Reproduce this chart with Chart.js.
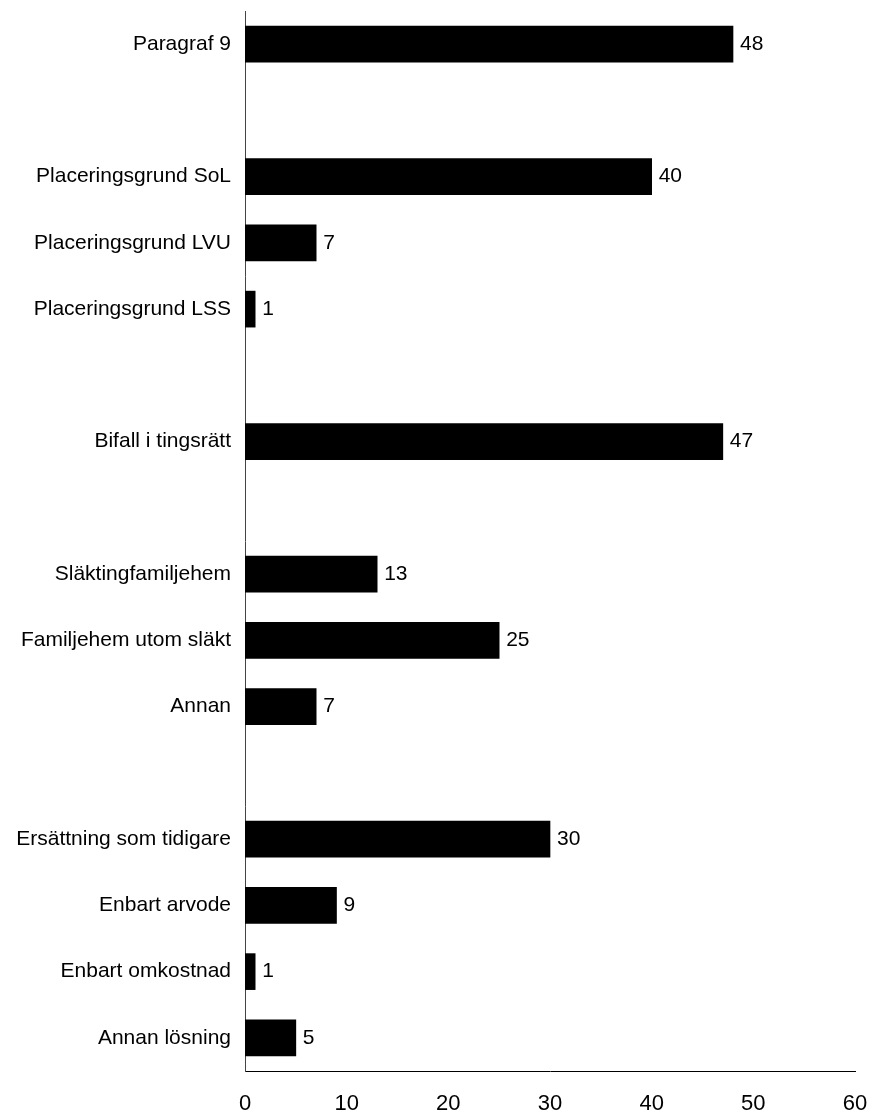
<!DOCTYPE html>
<html>
<head>
<meta charset="utf-8">
<script src="https://cdn.jsdelivr.net/npm/chart.js@4.4.1/dist/chart.umd.min.js"></script>
<style>
html,body{margin:0;padding:0;background:#fff;}
#wrap{width:870px;height:1115px;position:relative;}
</style>
</head>
<body>
<div id="wrap"><canvas id="c" width="870" height="1115"></canvas></div>
<script>
const categories = ["Paragraf 9", "", "Placeringsgrund SoL", "Placeringsgrund LVU", "Placeringsgrund LSS", "", "Bifall i tingsrätt", "", "Släktingfamiljehem", "Familjehem utom släkt", "Annan", "", "Ersättning som tidigare", "Enbart arvode", "Enbart omkostnad", "Annan lösning"];
const values = [48, null, 40, 7, 1, null, 47, null, 13, 25, 7, null, 30, 9, 1, 5];
const xTicks = [0, 10, 20, 30, 40, 50, 60];

const FONT = "'Liberation Sans', Arial, sans-serif";

const valueLabels = {
  id: 'valueLabels',
  afterDatasetsDraw(chart) {
    const ctx = chart.ctx;
    const meta = chart.getDatasetMeta(0);
    ctx.save();
    ctx.font = "21px " + FONT;
    ctx.fillStyle = '#000';
    ctx.textAlign = 'left';
    ctx.textBaseline = 'middle';
    meta.data.forEach((bar, i) => {
      const v = values[i];
      if (v === null || v === undefined) return;
      ctx.fillText(String(v), bar.x + 7, bar.y);
    });
    ctx.restore();
  }
};

function noPad(scale) {
  scale.paddingTop = 0; scale.paddingBottom = 0;
  scale.paddingLeft = 0; scale.paddingRight = 0;
}

new Chart(document.getElementById('c'), {
  type: 'bar',
  data: {
    labels: categories,
    datasets: [{
      data: values,
      backgroundColor: '#000',
      borderWidth: 0,
      barThickness: 36
    }]
  },
  options: {
    indexAxis: 'y',
    responsive: false,
    animation: false,
    layout: { padding: { top: 11, right: 15, left: 0, bottom: 0 } },
    plugins: { legend: { display: false }, tooltip: { enabled: false } },
    scales: {
      x: {
        min: 0, max: 60,
        afterBuildTicks(scale) { scale.ticks = xTicks.map(v => ({ value: v })); },
        afterFit(scale) { scale.height = 44; noPad(scale); },
        grid: { display: false, drawTicks: false },
        border: { display: true, color: '#000', width: 1 },
        ticks: { color: '#000', font: { family: FONT, size: 22 }, padding: 20, maxRotation: 0 }
      },
      y: {
        afterFit(scale) { scale.width = 245; noPad(scale); },
        grid: { display: false, drawTicks: false },
        border: { display: true, color: '#444', width: 1 },
        ticks: { color: '#000', font: { family: FONT, size: 21 }, padding: 14, autoSkip: false }
      }
    }
  },
  plugins: [valueLabels]
});
</script>
</body>
</html>
